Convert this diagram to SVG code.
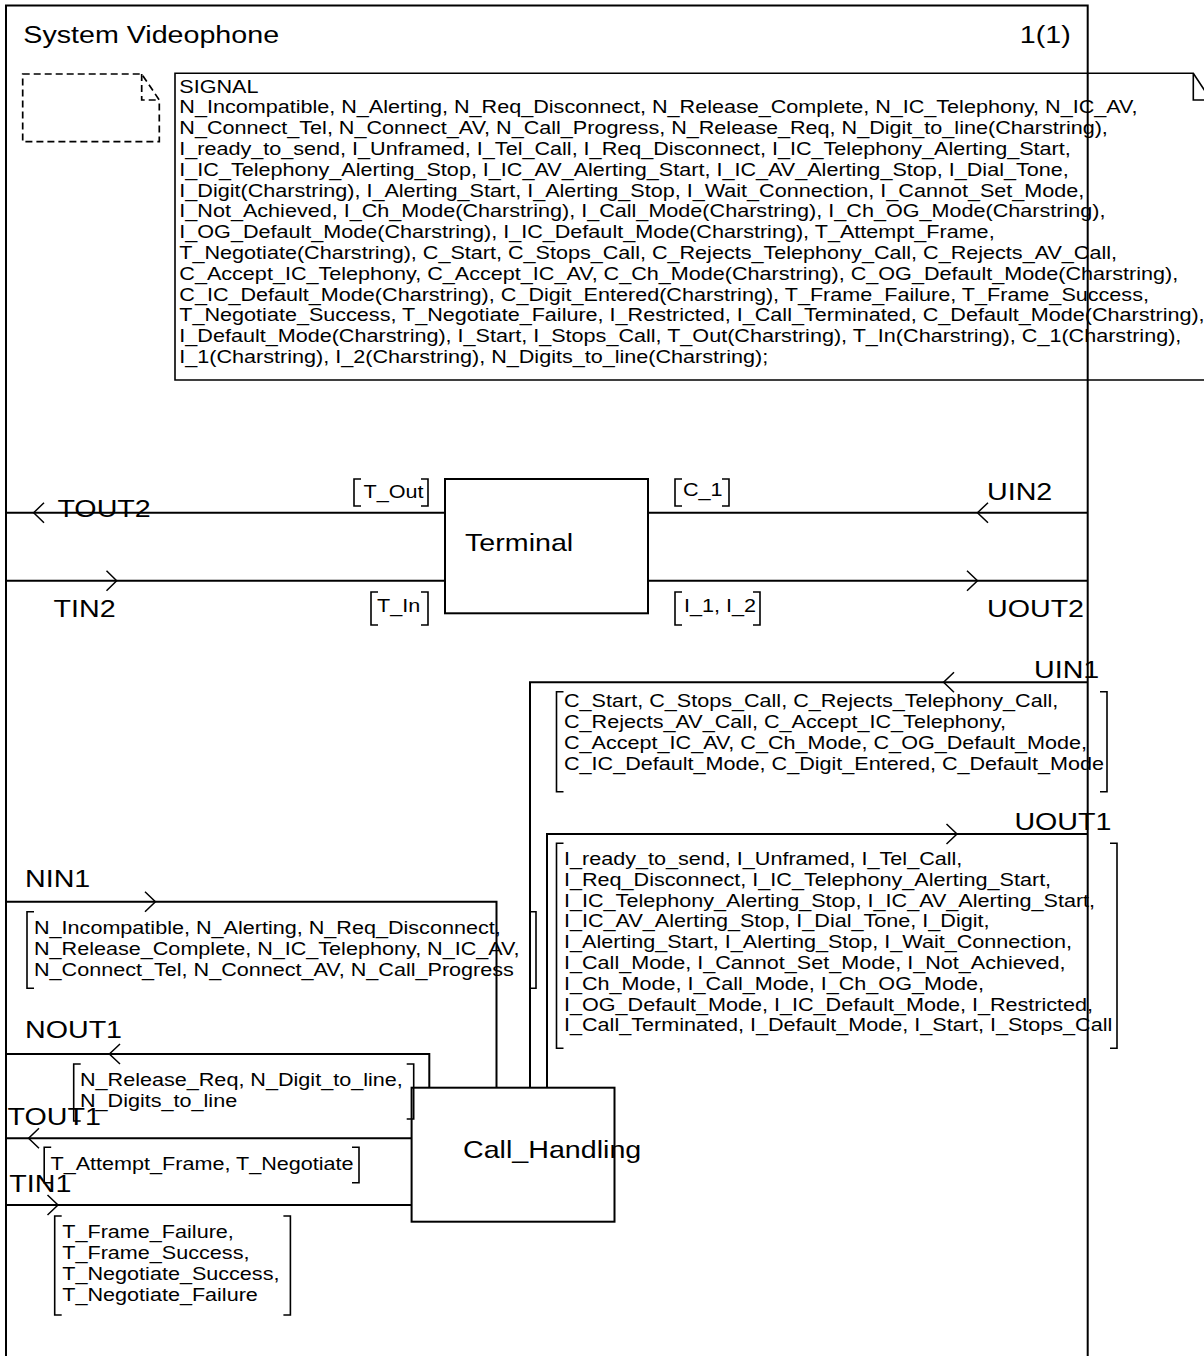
<svg xmlns="http://www.w3.org/2000/svg" width="1204" height="1356" viewBox="0 0 1204 1356">
<style>
.fr{fill:none;stroke:#000;stroke-width:2}
.ln{fill:none;stroke:#000;stroke-width:2}
.ch{fill:none;stroke:#000;stroke-width:1.5}
.br{fill:none;stroke:#000;stroke-width:1.6}
.dash{fill:none;stroke:#000;stroke-width:1.7;stroke-dasharray:7 4}
.big{font-family:"Liberation Sans",Arial,Helvetica,sans-serif;font-size:24.8px;fill:#000}
.sm{font-family:"Liberation Sans",Arial,Helvetica,sans-serif;font-size:18.7px;fill:#000}
</style>
<rect x="0" y="0" width="1204" height="1356" fill="#fff"/>

<g id="frame">
<path class="fr" d="M6,1360 V5.5 H1087.7 V1360"/>
<text class="big" transform="matrix(1.155 0 0 1 23.3 43.3)">System Videophone</text>
<text class="big" text-anchor="end" transform="matrix(1.155 0 0 1 1070.7 43)">1(1)</text>
</g>

<g id="comment">
<path class="dash" d="M22.7,74 H141.7 L159.3,100 V141.7 H22.7 Z"/>
<path class="dash" d="M141.7,74 V100 H159.3"/>
</g>

<g id="signal_text">
<path class="br" d="M175,73.3 H1193.3 L1211,100 V380 H175 Z"/>
<path class="br" d="M1193.3,73.3 V100 H1211"/>
<text class="sm" transform="matrix(1.155 0 0 1 179.3 92.7)">
<tspan x="0" y="0">SIGNAL</tspan>
<tspan x="0" y="20.8">N_Incompatible, N_Alerting, N_Req_Disconnect, N_Release_Complete, N_IC_Telephony, N_IC_AV,</tspan>
<tspan x="0" y="41.6">N_Connect_Tel, N_Connect_AV, N_Call_Progress, N_Release_Req, N_Digit_to_line(Charstring),</tspan>
<tspan x="0" y="62.4">I_ready_to_send, I_Unframed, I_Tel_Call, I_Req_Disconnect, I_IC_Telephony_Alerting_Start,</tspan>
<tspan x="0" y="83.2">I_IC_Telephony_Alerting_Stop, I_IC_AV_Alerting_Start, I_IC_AV_Alerting_Stop, I_Dial_Tone,</tspan>
<tspan x="0" y="104">I_Digit(Charstring), I_Alerting_Start, I_Alerting_Stop, I_Wait_Connection, I_Cannot_Set_Mode,</tspan>
<tspan x="0" y="124.8">I_Not_Achieved, I_Ch_Mode(Charstring), I_Call_Mode(Charstring), I_Ch_OG_Mode(Charstring),</tspan>
<tspan x="0" y="145.6">I_OG_Default_Mode(Charstring), I_IC_Default_Mode(Charstring), T_Attempt_Frame,</tspan>
<tspan x="0" y="166.4">T_Negotiate(Charstring), C_Start, C_Stops_Call, C_Rejects_Telephony_Call, C_Rejects_AV_Call,</tspan>
<tspan x="0" y="187.2">C_Accept_IC_Telephony, C_Accept_IC_AV, C_Ch_Mode(Charstring), C_OG_Default_Mode(Charstring),</tspan>
<tspan x="0" y="208">C_IC_Default_Mode(Charstring), C_Digit_Entered(Charstring), T_Frame_Failure, T_Frame_Success,</tspan>
<tspan x="0" y="228.8">T_Negotiate_Success, T_Negotiate_Failure, I_Restricted, I_Call_Terminated, C_Default_Mode(Charstring),</tspan>
<tspan x="0" y="249.6">I_Default_Mode(Charstring), I_Start, I_Stops_Call, T_Out(Charstring), T_In(Charstring), C_1(Charstring),</tspan>
<tspan x="0" y="270.4">I_1(Charstring), I_2(Charstring), N_Digits_to_line(Charstring);</tspan>
</text>
</g>

<g id="terminal">
<rect class="ln" x="445" y="479" width="203" height="134.3"/>
<text class="big" transform="matrix(1.155 0 0 1 465 550.7)">Terminal</text>
</g>

<g id="call_handling">
<rect class="ln" x="411.6" y="1087.7" width="202.9" height="134"/>
<text class="big" transform="matrix(1.155 0 0 1 463 1158.3)">Call_Handling</text>
</g>

<g id="connectors">
<g id="TOUT2">
<path class="ln" d="M445,512.7 H6"/>
<path class="ch" d="M44,502.7 L33.7,512.7 L44,522.7"/>
<text class="big" transform="matrix(1.155 0 0 1 57.4 517.3)">TOUT2</text>
<path class="br" d="M361,479 H354 V506 H361 M421,479 H428 V506 H421"/>
<text class="sm" transform="matrix(1.155 0 0 1 363.6 498.3)">T_Out</text>
</g>
<g id="TIN2">
<path class="ln" d="M6,580.7 H445"/>
<path class="ch" d="M106.5,570.7 L116.7,580.7 L106.5,590.7"/>
<text class="big" transform="matrix(1.155 0 0 1 53.6 616.7)">TIN2</text>
<path class="br" d="M378,592 H371 V625 H378 M421,592 H428 V625 H421"/>
<text class="sm" transform="matrix(1.155 0 0 1 377 611.7)">T_In</text>
</g>
<g id="UIN2">
<path class="ln" d="M1087.7,512.7 H648"/>
<path class="ch" d="M988,502.7 L977.5,512.7 L988,522.7"/>
<text class="big" transform="matrix(1.155 0 0 1 987 500)">UIN2</text>
<path class="br" d="M682,479 H675 V506 H682 M722,479 H729 V506 H722"/>
<text class="sm" transform="matrix(1.155 0 0 1 683 496)">C_1</text>
</g>
<g id="UOUT2">
<path class="ln" d="M648,580.7 H1087.7"/>
<path class="ch" d="M967,570.7 L977.5,580.7 L967,590.7"/>
<text class="big" transform="matrix(1.155 0 0 1 987 617.3)">UOUT2</text>
<path class="br" d="M682,592 H675 V625 H682 M753,592 H760 V625 H753"/>
<text class="sm" transform="matrix(1.155 0 0 1 684 611.7)">I_1, I_2</text>
</g>
<g id="UIN1">
<path class="ln" d="M1087.7,682.3 H530 V1087.7"/>
<path class="ch" d="M954,672.3 L943.6,682.3 L954,692.3"/>
<text class="big" transform="matrix(1.155 0 0 1 1034 678.3)">UIN1</text>
<path class="br" d="M563.5,691.7 H556.5 V791.7 H563.5 M1100,691.7 H1107 V791.7 H1100"/>
<text class="sm" transform="matrix(1.155 0 0 1 564 707.3)">
<tspan x="0" y="0">C_Start, C_Stops_Call, C_Rejects_Telephony_Call,</tspan>
<tspan x="0" y="20.8">C_Rejects_AV_Call, C_Accept_IC_Telephony,</tspan>
<tspan x="0" y="41.6">C_Accept_IC_AV, C_Ch_Mode, C_OG_Default_Mode,</tspan>
<tspan x="0" y="62.4">C_IC_Default_Mode, C_Digit_Entered, C_Default_Mode</tspan>
</text>
</g>
<g id="UOUT1">
<path class="ln" d="M547,1087.7 V834 H1087.7"/>
<path class="ch" d="M946.5,824 L957,834 L946.5,844"/>
<text class="big" transform="matrix(1.155 0 0 1 1014.4 830)">UOUT1</text>
<path class="br" d="M563.5,843.3 H556.5 V1048.3 H563.5 M1110,843.3 H1117 V1048.3 H1110"/>
<text class="sm" transform="matrix(1.155 0 0 1 564 865)">
<tspan x="0" y="0">I_ready_to_send, I_Unframed, I_Tel_Call,</tspan>
<tspan x="0" y="20.8">I_Req_Disconnect, I_IC_Telephony_Alerting_Start,</tspan>
<tspan x="0" y="41.6">I_IC_Telephony_Alerting_Stop, I_IC_AV_Alerting_Start,</tspan>
<tspan x="0" y="62.4">I_IC_AV_Alerting_Stop, I_Dial_Tone, I_Digit,</tspan>
<tspan x="0" y="83.2">I_Alerting_Start, I_Alerting_Stop, I_Wait_Connection,</tspan>
<tspan x="0" y="104">I_Call_Mode, I_Cannot_Set_Mode, I_Not_Achieved,</tspan>
<tspan x="0" y="124.8">I_Ch_Mode, I_Call_Mode, I_Ch_OG_Mode,</tspan>
<tspan x="0" y="145.6">I_OG_Default_Mode, I_IC_Default_Mode, I_Restricted,</tspan>
<tspan x="0" y="166.4">I_Call_Terminated, I_Default_Mode, I_Start, I_Stops_Call</tspan>
</text>
</g>
<g id="NIN1">
<path class="ln" d="M6,901.7 H496.5 V1087.7"/>
<path class="ch" d="M145,891.7 L155.4,901.7 L145,911.7"/>
<text class="big" transform="matrix(1.155 0 0 1 25 887.3)">NIN1</text>
<path class="br" d="M34,911.7 H27 V988.3 H34 M529,911.7 H536 V988.3 H529"/>
<text class="sm" transform="matrix(1.155 0 0 1 34 934)">
<tspan x="0" y="0">N_Incompatible, N_Alerting, N_Req_Disconnect,</tspan>
<tspan x="0" y="20.8">N_Release_Complete, N_IC_Telephony, N_IC_AV,</tspan>
<tspan x="0" y="41.6">N_Connect_Tel, N_Connect_AV, N_Call_Progress</tspan>
</text>
</g>
<g id="NOUT1">
<path class="ln" d="M429.3,1087.7 V1054 H6"/>
<path class="ch" d="M120,1044 L109.4,1054 L120,1064"/>
<text class="big" transform="matrix(1.155 0 0 1 25 1038.3)">NOUT1</text>
<path class="br" d="M80.7,1064 H73.7 V1121 H80.7 M406.7,1064 H413.7 V1119 H406.7"/>
<text class="sm" transform="matrix(1.155 0 0 1 80 1086)">
<tspan x="0" y="0">N_Release_Req, N_Digit_to_line,</tspan>
<tspan x="0" y="20.8">N_Digits_to_line</tspan>
</text>
</g>
<g id="TOUT1">
<path class="ln" d="M411.6,1138.3 H6"/>
<path class="ch" d="M39,1128.3 L28.6,1138.3 L39,1148.3"/>
<text class="big" transform="matrix(1.155 0 0 1 7.6 1125)">TOUT1</text>
<path class="br" d="M51.2,1147.3 H44.2 V1182.7 H51.2 M352,1147.3 H359 V1182.7 H352"/>
<text class="sm" transform="matrix(1.155 0 0 1 50.5 1170)">T_Attempt_Frame, T_Negotiate</text>
</g>
<g id="TIN1">
<path class="ln" d="M6,1205 H411.6"/>
<path class="ch" d="M47.5,1195 L58,1205 L47.5,1215"/>
<text class="big" transform="matrix(1.155 0 0 1 9.3 1191.7)">TIN1</text>
<path class="br" d="M61.7,1216 H54.7 V1315 H61.7 M283.4,1216 H290.4 V1315 H283.4"/>
<text class="sm" transform="matrix(1.155 0 0 1 62.3 1238.3)">
<tspan x="0" y="0">T_Frame_Failure,</tspan>
<tspan x="0" y="20.8">T_Frame_Success,</tspan>
<tspan x="0" y="41.6">T_Negotiate_Success,</tspan>
<tspan x="0" y="62.4">T_Negotiate_Failure</tspan>
</text>
</g>
</g>
</svg>
